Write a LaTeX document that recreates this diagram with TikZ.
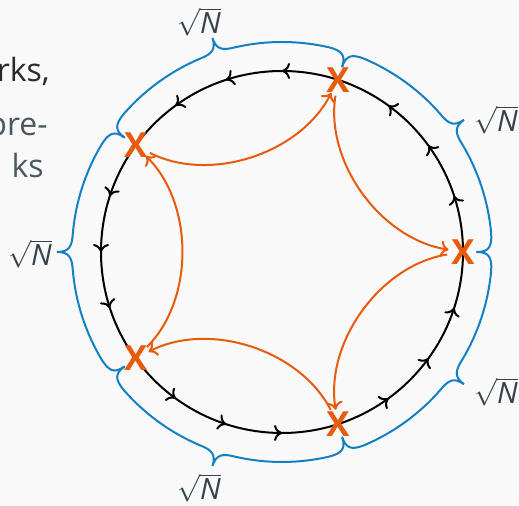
\documentclass[tikz,border=0pt]{standalone}
\usepackage{fontspec}
\setmainfont{Open Sans}
\usetikzlibrary{arrows.meta,decorations.markings}
\definecolor{bgc}{HTML}{F9F9F9}
\definecolor{bblue}{HTML}{1380C4}
\definecolor{xorange}{HTML}{E85A0C}
\definecolor{inkc}{HTML}{2A2A2A}
\definecolor{slatec}{HTML}{4A5960}
\definecolor{lblc}{HTML}{33434B}

\newcommand{\polarbrace}[2]{%
  \pgfmathsetmacro\pbA{#1}%
  \pgfmathsetmacro\pbB{#2}%
  \pgfmathsetmacro\pbM{(#1+#2)/2}%
  \draw[bracestyle] (\pbA:195) .. controls (\pbA:207) and ({\pbA+1.5}:210) .. ({\pbA+5}:210)
    arc[start angle={\pbA+5}, end angle={\pbM-5}, radius=210]
    .. controls ({\pbM-1.5}:210) and (\pbM:213) .. (\pbM:225)
    .. controls (\pbM:213) and ({\pbM+1.5}:210) .. ({\pbM+5}:210)
    arc[start angle={\pbM+5}, end angle={\pbB-5}, radius=210]
    .. controls ({\pbB-1.5}:210) and (\pbB:207) .. (\pbB:195);
}

\tikzset{
  barb/.tip={Computer Modern Rightarrow[length=6pt,width=12pt]},
  circ/.style={line width=1.5pt, draw=black},
  bracestyle/.style={line width=1.5pt, draw=bblue, line cap=round},
  xmark/.style={circle, inner sep=1pt, text=xorange, font=\fontsize{26}{26}\selectfont\bfseries},
  oarr/.style={line width=1.5pt, draw=xorange, -barb, shorten <=12pt, shorten >=11pt},
  lbl/.style={text=lblc, font=\fontsize{22}{26}\selectfont, inner sep=0pt},
  sidetext/.style={anchor=base east, inner sep=0pt, font=\fontsize{24}{29}\selectfont},
}

\begin{document}
\begin{tikzpicture}[x=0.75pt, y=0.75pt]
\useasboundingbox (0,0) rectangle (519,506);
\fill[bgc] (0,0) rectangle (519,506);
\clip (0,0) rectangle (519,506);

% cut-off slide text
\node[sidetext, text=inkc] (t1) at (50,424) {rks,};
\node[sidetext, text=slatec] (t2) at (48,370) {pre-};
\node[sidetext, text=slatec] (t3) at (44,328) {ks};

\begin{scope}[shift={(282,254)}]
  \draw[circ, postaction={decorate}, decoration={markings,
      mark=at position 0.05 with {\arrow{barb}},
      mark=at position 0.10 with {\arrow{barb}},
      mark=at position 0.15 with {\arrow{barb}},
      mark=at position 0.25 with {\arrow{barb}},
      mark=at position 0.30 with {\arrow{barb}},
      mark=at position 0.35 with {\arrow{barb}},
      mark=at position 0.45 with {\arrow{barb}},
      mark=at position 0.50 with {\arrow{barb}},
      mark=at position 0.55 with {\arrow{barb}},
      mark=at position 0.65 with {\arrow{barb}},
      mark=at position 0.70 with {\arrow{barb}},
      mark=at position 0.75 with {\arrow{barb}},
      mark=at position 0.85 with {\arrow{barb}},
      mark=at position 0.90 with {\arrow{barb}},
      mark=at position 0.95 with {\arrow{barb}}}]
    (0,0) circle[radius=181];

  \polarbrace{0}{72}
  \polarbrace{72}{144}
  \polarbrace{144}{216}
  \polarbrace{216}{288}
  \polarbrace{288}{360}

  \node[xmark] (x0) at (0:181) {X};
  \node[xmark] (x72) at (72:181) {X};
  \node[xmark] (x144) at (144:181) {X};
  \node[xmark] (x216) at (216:181) {X};
  \node[xmark] (x288) at (288:181) {X};

  \draw[oarr] (x144.center) to[bend right=45] (x72.center);
  \draw[oarr] (x72.center) to[bend right=45] (x0.center);
  \draw[oarr] (x0.center) to[bend right=45] (x288.center);
  \draw[oarr] (x288.center) to[bend right=45] (x216.center);
  \draw[oarr] (x216.center) to[bend right=45] (x144.center);
\end{scope}

\node[lbl] (n108) at (199,484) {$\sqrt{\textit{N}}$};
\node[lbl] (n36) at (496,386) {$\sqrt{\textit{N}}$};
\node[lbl] (n180) at (30,252) {$\sqrt{\textit{N}}$};
\node[lbl] (n324) at (496,114) {$\sqrt{\textit{N}}$};
\node[lbl] (n252) at (199,18) {$\sqrt{\textit{N}}$};
\end{tikzpicture}
\end{document}
